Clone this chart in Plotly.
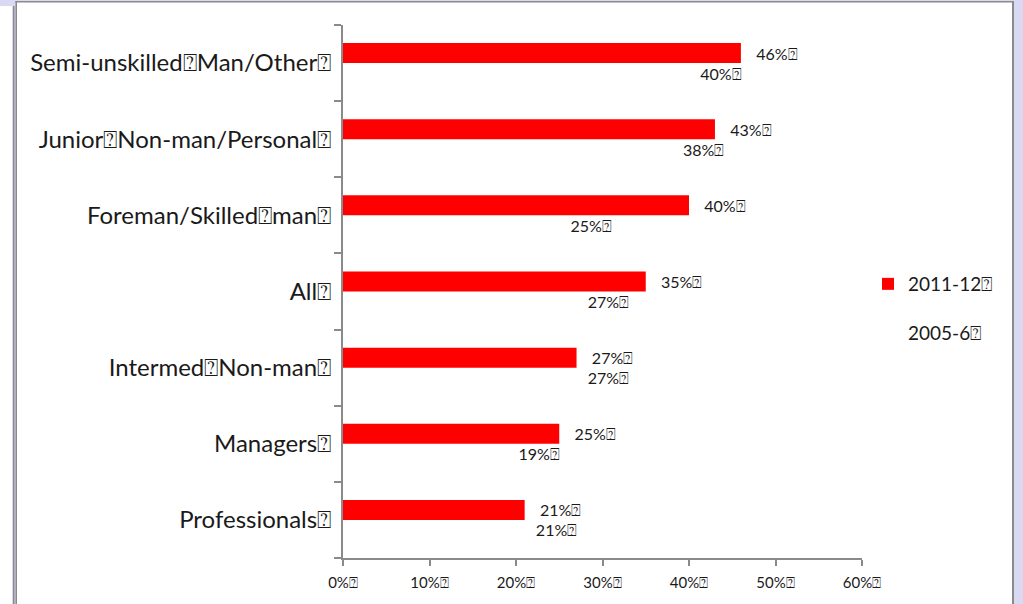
import plotly.graph_objects as go

BOX = "\u2370"
categories = ["Professionals", "Managers", "Intermed Non-man", "All",
              "Foreman/Skilled man", "Junior Non-man/Personal", "Semi-unskilled Man/Other"]
series_names = ["2011-12", "2005-6"]
values_2011 = [21, 25, 27, 35, 40, 43, 46]
values_2005 = [21, 19, 27, 27, 25, 38, 40]
x_ticks = [0, 10, 20, 30, 40, 50, 60]

def boxed(s):
    return s.replace(" ", BOX) + BOX

cat_labels = [boxed(c) for c in categories]
FONT = "Lato, 'Open Sans', sans-serif"

fig = go.Figure()
fig.add_trace(go.Bar(
    y=cat_labels, x=values_2005, orientation="h", name=boxed(series_names[1]),
    marker=dict(color="rgba(0,0,0,0)", line=dict(width=0)),
    text=["  %d%%%s" % (v, BOX) for v in values_2005], textposition="outside",
    textfont=dict(family=FONT, size=16, color="#1a1a1a"),
    legendrank=2, legendgroup="b", cliponaxis=False,
))
fig.add_trace(go.Bar(
    y=cat_labels, x=values_2011, orientation="h", name=boxed(series_names[0]),
    marker=dict(color="#ff0000", line=dict(width=0)),
    text=["   %d%%%s" % (v, BOX) for v in values_2011], textposition="outside",
    textfont=dict(family=FONT, size=16, color="#1a1a1a"),
    legendrank=1, legendgroup="a", cliponaxis=False,
))

W, H = 1023, 604
L, R, T, B = 343, 862, 25, 558
def px(xp):
    return (xp - L) / (R - L)
def py(yp):
    return (B - yp) / (B - T)

shapes = []
lav = "#d9d9f3"
gray = "#8a8a8a"
def rect(x0, y0, x1, y1, color):
    shapes.append(dict(type="rect", xref="paper", yref="paper",
                       x0=px(x0), x1=px(x1), y0=py(y0), y1=py(y1),
                       fillcolor=color, line=dict(width=0), layer="below"))
rect(0, 0, W, 1, lav)
rect(0, 0, 17, 6, lav)
rect(12, 0, 17, H, lav)
rect(13, 6, 14.5, H, gray)
rect(15.5, 1, 17, H, gray)
rect(1012, 0, W, H, lav)
rect(1012, 1, 1014, H, gray)
rect(15.5, 1, 1014, 2.5, gray)

fig.update_layout(
    width=W, height=H,
    margin=dict(l=L, r=W - R, t=T, b=H - B, pad=0),
    paper_bgcolor="white", plot_bgcolor="white",
    barmode="group", bargap=0.475, bargroupgap=0,
    font=dict(family=FONT, color="#1a1a1a"),
    shapes=shapes,
    showlegend=True,
    legend=dict(x=px(868), y=py(265), xanchor="left", yanchor="top",
                traceorder="grouped", tracegroupgap=21,
                font=dict(family=FONT, size=19, color="#1a1a1a"),
                bgcolor="rgba(0,0,0,0)", itemwidth=30),
    xaxis=dict(range=[0, 60], tickvals=x_ticks,
               ticktext=["%d%%%s" % (v, BOX) for v in x_ticks],
               showgrid=False, zeroline=False, showline=True,
               linecolor=gray, linewidth=2, ticks="outside", ticklen=6,
               tickcolor=gray, tickwidth=2, ticklabelstandoff=4,
               tickfont=dict(family=FONT, size=15, color="#1a1a1a")),
    yaxis=dict(showgrid=False, zeroline=False, showline=True,
               linecolor=gray, linewidth=2, ticks="outside", ticklen=7,
               tickcolor=gray, tickwidth=2, tickson="boundaries",
               range=[-0.5, 6.5], ticklabelstandoff=5,
               tickfont=dict(family=FONT, size=24, color="#1a1a1a")),
)
fig.write_html("out.html", config={"displayModeBar": False},
               post_script="document.body.style.margin='0';document.body.style.padding='0';")
